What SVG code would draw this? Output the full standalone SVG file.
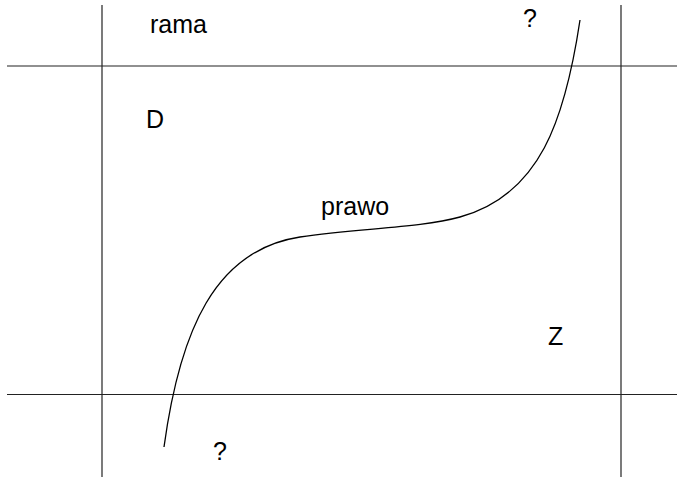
<svg xmlns="http://www.w3.org/2000/svg" width="679" height="477" viewBox="0 0 679 477">
<style>
.ln{stroke:#222;stroke-width:1.2;fill:none}
.cv{stroke:#000;stroke-width:1.3;fill:none}
.t{font-family:"Liberation Sans",Arial,sans-serif;font-size:25px;fill:#000}
</style>
<rect width="679" height="477" fill="#fff"/>
<g id="frame">
<line class="ln" x1="102" y1="5" x2="102" y2="477"/>
<line class="ln" x1="621" y1="5" x2="621" y2="477"/>
<line class="ln" x1="7" y1="66" x2="677" y2="66"/>
<line class="ln" x1="7" y1="394.5" x2="677" y2="394.5"/>
</g>
<g id="curve">
<path class="cv" d="M164,447 C180,330 215,250 300,237 C360,228 420,228 460,217 C540,195 565,120 580,20"/>
</g>
<g id="labels">
<text class="t" x="150" y="33">rama</text>
<text class="t" x="523" y="27">?</text>
<text class="t" x="146" y="128">D</text>
<text class="t" x="321" y="215">prawo</text>
<text class="t" x="548" y="345">Z</text>
<text class="t" x="213" y="460">?</text>
</g>
</svg>
